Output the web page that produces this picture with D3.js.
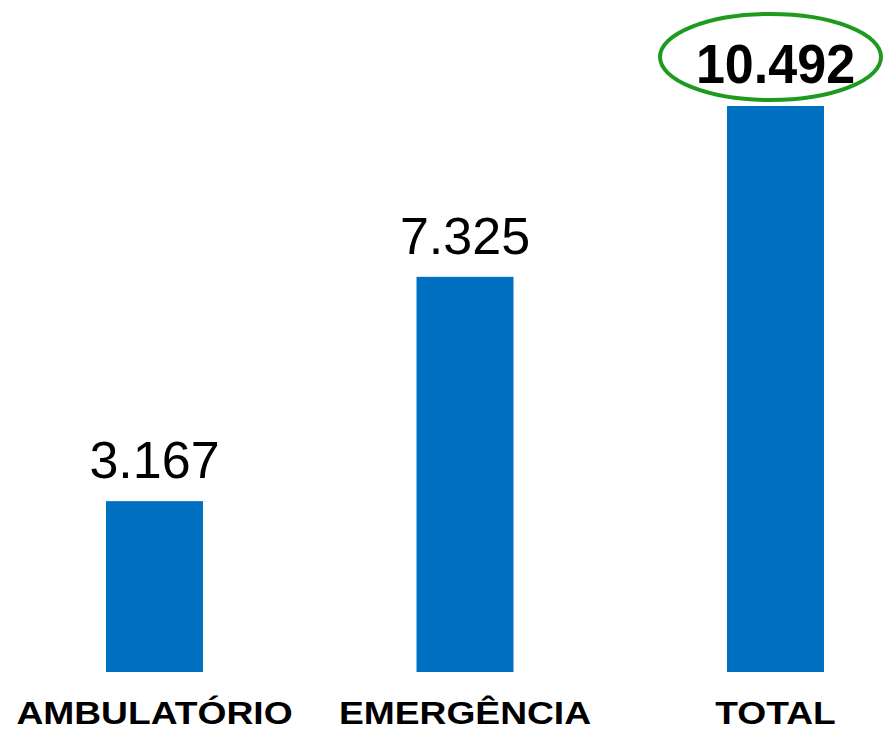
<!DOCTYPE html>
<html>
<head>
<meta charset="utf-8">
<script src="https://cdn.jsdelivr.net/npm/d3@7"></script>
<style>
  body { margin: 0; background: #fff; }
  svg { display: block; }
</style>
</head>
<body>
<script>
'use strict';

// chart data
const categories = ["AMBULATÓRIO", "EMERGÊNCIA", "TOTAL"];
const values = [3167, 7325, 10492];
const valueLabels = ["3.167", "7.325", "10.492"];
const highlighted = "TOTAL";

const width = 883, height = 731;
const barColor = "#0070C0";
const ringColor = "#1E9B1E";

const svg = d3.select('body')
  .append('svg')
  .attr('width', width)
  .attr('height', height);

// x: band scale, bars 97px wide every 310.5px
const xScale = d3.scaleBand()
  .domain(categories)
  .range([-0.75, 930.75])
  .paddingInner(0.6876)
  .paddingOuter(0.3438);

// y: baseline at 672
const yScale = d3.scaleLinear()
  .domain([0, 10492])
  .range([672, 106]);

// bars
svg.selectAll('.bar')
  .data(categories)
  .enter()
  .append('rect')
    .attr('class', 'bar')
    .attr('x', d => xScale(d))
    .attr('y', (d, i) => yScale(values[i]))
    .attr('width', xScale.bandwidth())
    .attr('height', (d, i) => yScale(0) - yScale(values[i]))
    .style('fill', barColor);

// value labels above bars (the highlighted one is bold and a bit condensed)
svg.selectAll('.value')
  .data(categories)
  .enter()
  .append('text')
    .attr('class', 'value')
    .attr('transform', (d, i) => {
      let cx = xScale(d) + xScale.bandwidth() / 2;
      let cy = yScale(values[i]) - 23;
      return 'translate(' + cx + ',' + cy + ')' + (d === highlighted ? 'scale(0.93,1)' : '');
    })
    .attr('text-anchor', 'middle')
    .style('font-family', 'Liberation Sans, Arial, sans-serif')
    .style('font-size', d => d === highlighted ? '56px' : '52px')
    .style('font-weight', d => d === highlighted ? 'bold' : 'normal')
    .style('fill', '#000')
    .text((d, i) => valueLabels[i]);

// green ring around the total
const hi = categories.indexOf(highlighted);
svg.append('ellipse')
  .attr('cx', xScale(highlighted) + xScale.bandwidth() / 2 - 5)
  .attr('cy', yScale(values[hi]) - 49)
  .attr('rx', 110.5)
  .attr('ry', 43)
  .style('fill', 'none')
  .style('stroke', ringColor)
  .style('stroke-width', 4);

// category axis (no line, no ticks)
const xAxis = d3.axisBottom(xScale).tickSize(0);
const gx = svg.append('g')
  .attr('transform', 'translate(0, 672)')
  .call(xAxis);
gx.select('.domain').remove();
gx.selectAll('text')
  .attr('y', 52)
  .attr('dy', 0)
  .attr('transform', 'scale(1.2, 1)')
  .style('font-family', 'Liberation Sans, Arial, sans-serif')
  .style('font-size', '31px')
  .style('font-weight', 'bold')
  .style('fill', '#000');
</script>
</body>
</html>
